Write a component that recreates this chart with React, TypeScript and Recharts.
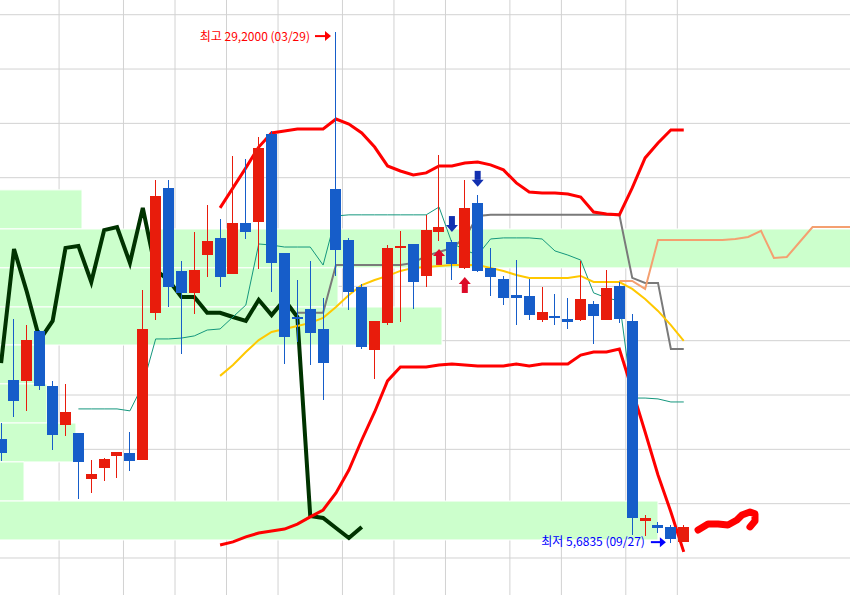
import React from 'react';
import {
  ComposedChart,
  Bar,
  Line,
  Scatter,
  XAxis,
  YAxis,
  ReferenceLine,
  ReferenceArea,
} from 'recharts';

// weekly candles, index 26 = 03/29 (high), index 52 = 09/27 (low)
const opens = [
  10.48, 13.19, 13.15, 15.45, 12.92, 11.12, 10.75, 8.64, 9.14, 9.69,
  9.83, 9.51, 16.28, 22.03, 18.21, 17.2, 18.94, 19.73, 18.07, 20.42,
  20.46, 24.51, 19.04, 16.09, 16.46, 15.54, 21.98, 19.63, 17.47, 14.57,
  15.82, 19.27, 19.45, 17.98, 20.0, 19.54, 18.35, 21.34, 18.35, 17.84,
  17.1, 17.06, 15.95, 16.14, 16.0, 15.95, 16.69, 15.95, 17.52, 15.91,
  6.7, 6.52, 6.43, 5.74,
];
const highs = [
  11.21, 16.0, 15.72, 15.49, 13.15, 13.01, 10.75, 9.51, 9.6, 9.88,
  10.8, 17.33, 22.4, 22.4, 18.67, 20.0, 21.24, 20.6, 23.5, 23.36,
  24.37, 24.65, 19.04, 17.79, 18.67, 16.97, 29.2, 19.73, 17.61, 15.91,
  19.4, 20.05, 19.45, 20.79, 23.55, 19.63, 22.4, 21.71, 19.27, 17.98,
  18.71, 17.84, 17.47, 17.15, 16.97, 18.67, 16.83, 18.25, 17.7, 16.23,
  6.98, 6.66, 6.52, 6.52,
];
const lows = [
  9.46, 11.49, 11.77, 12.73, 9.97, 10.61, 7.72, 7.99, 8.54, 8.68,
  9.0, 9.51, 15.95, 16.55, 14.39, 16.23, 17.93, 17.47, 18.07, 19.68,
  18.3, 17.24, 13.93, 14.94, 13.88, 12.27, 17.98, 16.41, 14.62, 13.24,
  15.72, 15.86, 16.46, 17.47, 19.59, 17.79, 18.3, 18.16, 17.06, 16.64,
  15.72, 15.95, 15.86, 15.72, 15.54, 15.91, 14.85, 15.95, 15.82, 6.06,
  6.01, 6.15, 5.6835, 5.74,
];
const closes = [
  9.83, 12.23, 15.03, 12.92, 10.66, 11.72, 9.42, 8.87, 9.56, 9.88,
  9.46, 15.54, 21.66, 17.47, 17.2, 18.25, 19.59, 17.93, 20.42, 20.0,
  23.87, 18.58, 15.17, 16.05, 15.36, 13.97, 19.17, 17.24, 14.71, 15.91,
  19.27, 19.36, 17.7, 20.09, 20.23, 18.53, 21.11, 18.21, 17.93, 16.97,
  16.97, 16.18, 16.32, 16.09, 15.86, 16.92, 16.14, 17.43, 16.0, 6.84,
  6.84, 6.38, 5.87, 6.43,
];

// bollinger bands, from index 17
const bandStart = 17;
const upperBand = [
  21.11, 22.03, 22.95, 23.91, 24.56, 24.65, 24.74, 24.74, 24.74, 25.2,
  24.97, 24.56, 23.91, 23.04, 22.81, 22.63, 22.72, 23.04, 23.04, 23.18,
  23.22, 23.09, 22.86, 22.26, 21.84, 21.8, 21.8, 21.75, 21.61, 20.92,
  20.83, 20.79, 22.03, 23.41, 24.1, 24.7, 24.7,
];
const midBand = [
  13.38, 13.88, 14.48, 15.03, 15.4, 15.54, 15.68, 15.82, 16.05, 16.55,
  17.1, 17.56, 17.79, 17.98, 18.21, 18.35, 18.39, 18.44, 18.48, 18.48,
  18.48, 18.35, 18.21, 18.02, 17.89, 17.89, 17.89, 17.89, 17.98, 17.7,
  17.7, 17.7, 17.38, 16.92, 16.37, 15.72, 14.99,
];
const lowerBand = [
  5.6, 5.74, 5.97, 6.15, 6.24, 6.33, 6.56, 6.89, 7.21, 7.99,
  9.05, 10.43, 11.72, 13.15, 13.79, 13.79, 13.79, 13.88, 13.93, 13.88,
  13.84, 13.84, 13.84, 13.93, 13.84, 13.93, 13.93, 13.93, 14.34, 14.48,
  14.48, 14.62, 12.73, 10.8, 8.82, 7.12, 5.28,
];

// ichimoku
const convStart = 6;
const conversion = [
  11.86, 11.86, 11.86, 11.86, 11.77, 12.96, 15.08, 15.08, 15.12, 15.22,
  15.49, 15.54, 16.09, 16.64, 19.45, 19.4, 19.31, 19.31, 19.31, 18.48,
  20.74, 20.79, 20.79, 20.79, 20.79, 20.79, 20.79, 20.79, 21.15, 19.5,
  19.17, 18.94, 19.68, 19.73, 19.73, 19.73, 19.68, 19.13, 18.94, 18.71,
  17.2, 16.97, 16.83, 12.36, 12.36, 12.32, 12.18, 12.18,
];
const baseStart = 23;
const baseLine = [
  16.28, 16.28, 16.28, 18.48, 18.48, 18.48, 18.48, 18.48, 18.48, 18.58,
  18.9, 19.08, 19.27, 19.73, 20.74, 20.79, 20.79, 20.79, 20.79, 20.79,
  20.79, 20.79, 20.79, 20.79, 20.79, 20.79, 17.89, 17.66, 17.66, 14.62,
  14.62,
];
const laggingSpan = [
  13.97, 19.22, 17.24, 15.03, 15.91, 19.27, 19.36, 17.7, 20.09, 20.23,
  18.58, 21.11, 18.25, 17.79, 17.01, 17.01, 16.28, 16.28, 16.09, 15.91,
  16.88, 16.18, 16.88, 16.09, 6.93, 6.84, 6.38, 5.92, 6.43,
];
const leadStart = 48;
const leadingSpan = [
  17.75, 17.75, 17.38, 19.63, 19.63, 19.63, 19.63, 19.63, 19.63, 19.68,
  19.77, 20.05, 18.81, 18.85, 19.54, 20.23, 20.23, 20.23, 20.23,
];

// price-volume profile (매물대): price bands top to bottom, reach in weeks
const profileEdges = [21.94, 20.14, 18.35, 16.55, 14.8, 13.01, 11.21, 9.42, 7.62, 5.83];
const profileReach = [6.28, 67, 26.16, 34.23, 3.41, 3.56, 5.81, 1.78, 51.0];

const buySignals = [34, 36];
const sellSignals = [35, 37];

const highIndex = 26;
const highDate = '03/29';
const lowIndex = 52;
const lowDate = '09/27';

// hand drawn marker (week, price)
const penStroke = [
  [54.11, 6.29], [54.88, 6.56], [55.66, 6.56], [56.43, 6.52], [57.13, 6.75],
  [57.52, 6.98], [58.14, 7.12], [58.53, 7.03], [58.53, 6.7], [58.14, 6.43],
];

const priceGrid = [5, 7.5, 10, 12.5, 15, 17.5, 20, 22.5, 25, 27.5, 30];
const monthGrid = [4.5, 9.5, 13.5, 17.5, 21.5, 26.5, 30.5, 34.5, 39.5, 43.5, 48.5, 52.5];

const X_MIN = -0.087;
const X_MAX = 65.907;
const Y_MIN = 3.297;
const Y_MAX = 30.677;

const RED = '#e81c0c';
const BLUE = '#165dc9';
const FONT = '"Noto Sans CJK KR", "Noto Sans", sans-serif';
const BODY_W = 11;

const pick = (arr: number[], start: number, i: number) => {
  const v = arr[i - start];
  return v === undefined ? null : v;
};

const rows = Array.from({ length: 67 }, (_, i) => ({
  i,
  open: i < opens.length ? opens[i] : null,
  high: i < highs.length ? highs[i] : null,
  low: i < lows.length ? lows[i] : null,
  close: i < closes.length ? closes[i] : null,
  upper: pick(upperBand, bandStart, i),
  mid: pick(midBand, bandStart, i),
  lower: pick(lowerBand, bandStart, i),
  conv: pick(conversion, convStart, i),
  base: pick(baseLine, baseStart, i),
  lag: pick(laggingSpan, 0, i),
  lead: pick(leadingSpan, leadStart, i),
}));

const penData = penStroke.map(([i, v]) => ({ i, pen: v }));
const buyData = buySignals.map((i) => ({ i, v: lows[i] }));
const sellData = sellSignals.map((i) => ({ i, v: highs[i] }));
const highData = [{ i: highIndex, v: highs[highIndex] }];
const lowData = [{ i: lowIndex, v: lows[lowIndex] }];

const fmt = (v: number) => v.toFixed(4).replace('.', ',');

const Candle = (props: any) => {
  const { x, y, width, height, payload } = props;
  if (!payload || payload.high == null) return null;
  const top = Math.min(y, y + height);
  const span = Math.abs(height);
  const { open, close, high, low } = payload;
  const toY = (p: number) => top + ((high - p) / (high - low)) * span;
  const color = close >= open ? RED : BLUE;
  const bodyTop = Math.round(toY(Math.max(open, close)));
  const bodyBottom = Math.round(toY(Math.min(open, close)));
  const center = x + (width || 0) / 2;
  const bx = Math.round(center - BODY_W / 2);
  return (
    <g shapeRendering="crispEdges">
      <rect x={bx + 5} y={Math.round(top)} width={1} height={Math.round(span)} fill={color} />
      <rect x={bx} y={bodyTop} width={BODY_W} height={Math.max(bodyBottom - bodyTop, 2)} fill={color} />
    </g>
  );
};

const BuyArrow = (props: any) => {
  const { cx, cy } = props;
  const t = cy + 8;
  return (
    <g>
      <polygon points={`${cx - 6},${t + 7} ${cx},${t} ${cx + 6},${t + 7}`} fill="#dc0a28" />
      <rect x={cx - 3} y={t + 7} width={6} height={9} fill="#dc0a28" />
    </g>
  );
};

const SellArrow = (props: any) => {
  const { cx, cy } = props;
  const t = cy - 8;
  return (
    <g>
      <polygon points={`${cx - 6},${t - 7} ${cx},${t} ${cx + 6},${t - 7}`} fill="#1230b0" />
      <rect x={cx - 3} y={t - 16} width={6} height={9} fill="#1230b0" />
    </g>
  );
};

const HighLabel = (props: any) => {
  const { cx, cy } = props;
  const ay = cy + 4;
  return (
    <g>
      <text x={cx - 26} y={cy + 9} textAnchor="end" fill="#ff0000" fontSize={12} fontFamily={FONT}>
        {`최고 ${fmt(highs[highIndex])} (${highDate})`}
      </text>
      <line x1={cx - 21} y1={ay} x2={cx - 10} y2={ay} stroke="#ff0000" strokeWidth={2} />
      <polygon points={`${cx - 11},${ay - 5} ${cx - 5},${ay} ${cx - 11},${ay + 5}`} fill="#ff0000" />
    </g>
  );
};

const LowLabel = (props: any) => {
  const { cx, cy } = props;
  const ay = cy - 1;
  return (
    <g>
      <text x={cx - 26} y={cy + 3} textAnchor="end" fill="#0000ff" fontSize={12} fontFamily={FONT}>
        {`최저 ${fmt(lows[lowIndex])} (${lowDate})`}
      </text>
      <line x1={cx - 20} y1={ay} x2={cx - 10} y2={ay} stroke="#0000ff" strokeWidth={2} />
      <polygon points={`${cx - 11},${ay - 5} ${cx - 5},${ay} ${cx - 11},${ay + 5}`} fill="#0000ff" />
    </g>
  );
};

export default function App() {
  return (
    <div style={{ position: 'absolute', left: 0, top: 0, width: 850, height: 595, background: '#fff' }}>
      <ComposedChart width={850} height={595} data={rows} margin={{ top: 0, right: 0, bottom: 0, left: 0 }}>
        <XAxis type="number" dataKey="i" domain={[X_MIN, X_MAX]} allowDataOverflow hide />
        <YAxis type="number" domain={[Y_MIN, Y_MAX]} allowDataOverflow hide />

        {priceGrid.map((v) => (
          <ReferenceLine key={`h${v}`} y={v} stroke="#d2d2d2" strokeWidth={1} zIndex={-90} />
        ))}
        {monthGrid.map((v) => (
          <ReferenceLine key={`v${v}`} x={v} stroke="#d2d2d2" strokeWidth={1} zIndex={-90} />
        ))}

        {profileReach.map((reach, k) => (
          <ReferenceArea
            key={`p${k}`}
            x1={X_MIN - 1}
            x2={reach}
            y1={profileEdges[k + 1]}
            y2={profileEdges[k]}
            fill="#ccffcc"
            fillOpacity={1}
            stroke="#ffffff"
            strokeWidth={1}
            ifOverflow="hidden"
            zIndex={-80}
          />
        ))}

        <Line dataKey="lag" stroke="#003300" strokeWidth={4} dot={false} activeDot={false} type="linear" isAnimationActive={false} />
        <Line dataKey="conv" stroke="#14977d" strokeWidth={1} dot={false} activeDot={false} type="linear" isAnimationActive={false} />
        <Line dataKey="base" stroke="#7a7a7a" strokeWidth={2} dot={false} activeDot={false} type="linear" isAnimationActive={false} />
        <Line dataKey="lead" stroke="#f4a070" strokeWidth={2} dot={false} activeDot={false} type="linear" isAnimationActive={false} />
        <Line dataKey="mid" stroke="#ffc800" strokeWidth={2} dot={false} activeDot={false} type="linear" isAnimationActive={false} />
        <Line dataKey="upper" stroke="#ff0000" strokeWidth={3} dot={false} activeDot={false} type="linear" isAnimationActive={false} />
        <Line dataKey="lower" stroke="#ff0000" strokeWidth={3} dot={false} activeDot={false} type="linear" isAnimationActive={false} />

        <Bar
          dataKey={(d: any) => (d.high == null ? null : [d.low, d.high])}
          barSize={11}
          shape={<Candle />}
          isAnimationActive={false}
          zIndex={450}
        />

        <Line
          data={penData}
          dataKey="pen"
          stroke="#ff0000"
          strokeWidth={7}
          strokeLinecap="round"
          strokeLinejoin="round"
          dot={false}
          activeDot={false}
          type="linear"
          isAnimationActive={false}
          zIndex={500}
        />

        <Scatter data={buyData} dataKey="v" shape={<BuyArrow />} isAnimationActive={false} />
        <Scatter data={sellData} dataKey="v" shape={<SellArrow />} isAnimationActive={false} />
        <Scatter data={highData} dataKey="v" shape={<HighLabel />} isAnimationActive={false} />
        <Scatter data={lowData} dataKey="v" shape={<LowLabel />} isAnimationActive={false} />
      </ComposedChart>
    </div>
  );
}
